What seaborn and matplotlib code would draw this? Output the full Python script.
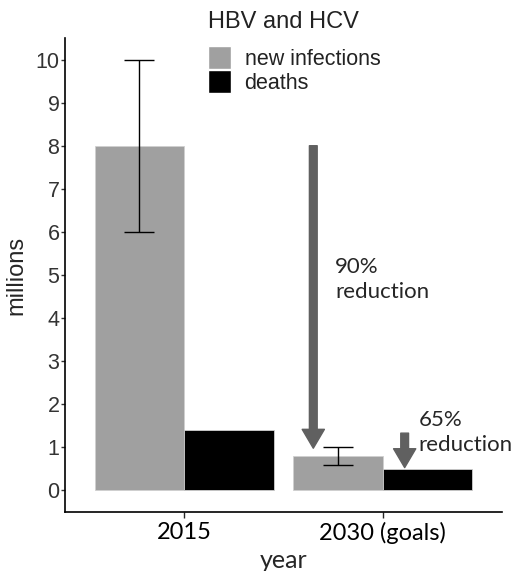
import matplotlib
matplotlib.use("Agg")
import matplotlib.pyplot as plt
import matplotlib.patches as mpatches
import seaborn as sns
import pandas as pd

years = ["2015", "2030 (goals)"]
measures = ["new infections", "deaths"]
infections = [8.0, 0.8]
deaths = [1.4, 0.5]
infections_low = [6.0, 0.58]
infections_high = [10.0, 1.0]
colors = ["#a0a0a0", "#000000"]

df = pd.DataFrame({
    "year": years * 2,
    "measure": [measures[0]] * 2 + [measures[1]] * 2,
    "millions": infections + deaths,
})

sns.set_style("white")
fig = plt.figure(figsize=(5.14, 5.71), dpi=100)
ax = fig.add_axes([65 / 514, 59 / 571, 437 / 514, 474 / 571])

sns.barplot(data=df, x="year", y="millions", hue="measure", hue_order=measures,
            order=years, palette=colors, width=0.9, errorbar=None,
            edgecolor="#d0d0d0", linewidth=0.6, ax=ax)

# error bars on the new infections bars
centers = [p.get_x() + p.get_width() / 2 for p in ax.patches[:2]]
lo = [v - l for v, l in zip(infections, infections_low)]
hi = [h - v for v, h in zip(infections, infections_high)]
ax.errorbar(centers, infections, yerr=[lo, hi], fmt="none", ecolor="black",
            elinewidth=1, capsize=10.8, capthick=1)

ax.set_xlim(-0.6, 1.6)
ax.set_ylim(-0.5, 10.5)
ax.set_yticks(range(0, 11))
ax.tick_params(axis="y", labelsize=15.5, length=3, width=1, pad=1, left=True,
               colors="#333333", labelcolor="#333333")
ax.tick_params(axis="x", length=4, width=1, pad=3, bottom=True)
for lab in ax.get_xticklabels():
    lab.set_fontfamily("Lato")
    lab.set_fontsize(17)
    lab.set_color("black")
for lab in ax.get_yticklabels():
    lab.set_fontfamily("Liberation Sans")

ax.set_ylabel("millions", fontsize=17, family="Liberation Sans", labelpad=6)
ax.set_xlabel("year", fontsize=18, family="Lato", labelpad=0)
ax.xaxis.set_label_coords(0.5, -0.078)

for s in ["top", "right"]:
    ax.spines[s].set_visible(False)
for s in ["left", "bottom"]:
    ax.spines[s].set_color("black")
    ax.spines[s].set_linewidth(1.2)

# reduction arrows
arrow_kw = dict(arrowstyle="simple,head_width=0.8,head_length=0.68,tail_width=0.28",
                color="#606060", mutation_scale=20, shrinkA=0, shrinkB=0)
ax.annotate("", xy=(0.65, 0.98), xytext=(0.65, 8.0), arrowprops=arrow_kw)
ax.annotate("", xy=(1.11, 0.53), xytext=(1.11, 1.33), arrowprops=arrow_kw)
ax.text(0.76, 4.9, "90%\nreduction", fontsize=16, family="Lato",
        ha="left", va="center", linespacing=1.3)
ax.text(1.18, 1.35, "65%\nreduction", fontsize=16, family="Lato",
        ha="left", va="center", linespacing=1.3)

# legend
ax.get_legend().remove()
fig.text(208 / 514, 1 - 22 / 571, "HBV and HCV", fontsize=17, family="Liberation Sans",
         color="#222222", ha="left", va="center")
handles = [mpatches.Patch(facecolor=colors[0], edgecolor="white"),
           mpatches.Patch(facecolor=colors[1], edgecolor="white")]
leg = ax.legend(handles, measures, loc="upper left",
                bbox_to_anchor=(208 / 514, 1 - 46 / 571), bbox_transform=fig.transFigure,
                frameon=False, borderpad=0, borderaxespad=0, handlelength=1.05,
                handleheight=1.3, handletextpad=0.65, labelspacing=0.0,
                prop={"family": "Liberation Sans", "size": 15.5})
for t in leg.get_texts():
    t.set_color("#222222")

fig.savefig("out.png", dpi=100)
